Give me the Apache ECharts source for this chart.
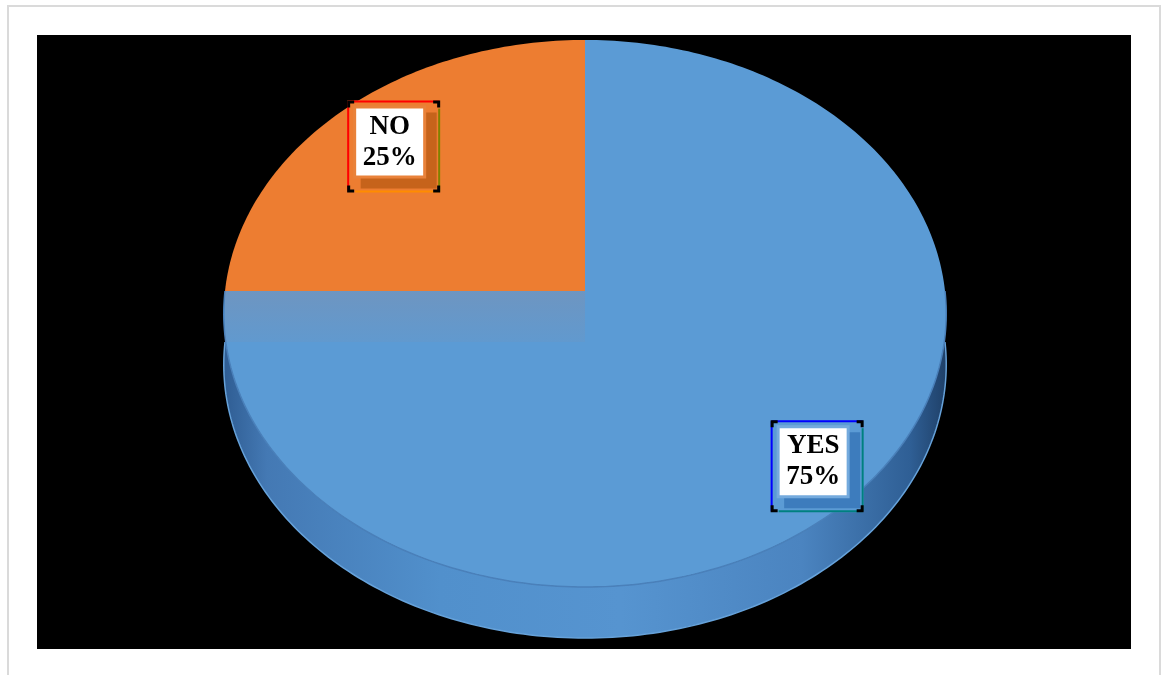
<!DOCTYPE html>
<html>
<head>
<meta charset="utf-8">
<script src="https://cdn.jsdelivr.net/npm/echarts@6/dist/echarts.min.js"></script>
<style>
  html, body { margin: 0; padding: 0; background: #ffffff; }
  #chart { width: 1163px; height: 675px; }
</style>
</head>
<body>
<div id="chart"></div>
<script>
// Survey answers
const categories = ['YES', 'NO'];
const values = [75, 25];

// Per-slice styling
const sliceStyle = {
  YES: { color: '#5b9bd5', labelRadius: 0.866,
         shadow: '#3d7cbd', border: '#74aadd',
         edgeA: '#0000ff', edgeB: '#008080', edgeC: '#008080' },
  NO:  { color: '#ed7d31', labelRadius: 0.786,
         shadow: '#c6631b', border: '#e9823a',
         edgeA: '#ff0000', edgeB: '#808000', edgeC: '#ff8c00' }
};

// Tilted-disc projection (slight perspective: front edge is nearer)
const geom = { cx: 585, cy: 291, rx: 360, a: 271.7, b: -0.0823, depth: 51 };
const total = values.reduce((s, v) => s + v, 0);

function proj(deg, r, drop) {
  const t = deg * Math.PI / 180;
  const x = r * Math.sin(t), z = -r * Math.cos(t);
  const s = 1 / (1 + geom.b * z);
  return [geom.cx + geom.rx * x * s, geom.cy + geom.a * z * s + (drop || 0)];
}
function rim(a0, a1, drop) {
  const n = Math.max(2, Math.ceil(Math.abs(a1 - a0)));
  const pts = [];
  for (let i = 0; i <= n; i++) pts.push(proj(a0 + (a1 - a0) * i / n, 1, drop));
  return pts;
}

function renderItem(params, api) {
  const i = params.dataIndex;
  const name = categories[i];
  const v = api.value(1);
  let before = 0;
  for (let k = 0; k < i; k++) before += values[k];
  const a0 = before / total * 360;
  const a1 = (before + v) / total * 360;
  const st = sliceStyle[name];
  const apex = [geom.cx, geom.cy];
  const kids = [];

  // top face
  kids.push({
    type: 'polygon', z2: 10,
    shape: { points: [apex].concat(rim(a0, a1, 0)) },
    style: { fill: st.color }
  });

  // outer wall on the visible front half
  const w0 = Math.max(a0, 90), w1 = Math.min(a1, 270);
  if (w1 > w0) {
    const top = rim(w0, w1, 0);
    const bot = rim(w0, w1, geom.depth);
    kids.push({
      type: 'polygon', z2: 5,
      shape: { points: top.concat(bot.slice().reverse()) },
      style: {
        fill: new echarts.graphic.LinearGradient(0, 0, 1, 0, [
          { offset: 0, color: '#2f5d93' },
          { offset: 0.06, color: '#4479b4' },
          { offset: 0.3, color: '#5190cc' },
          { offset: 0.55, color: '#5694d0' },
          { offset: 0.8, color: '#4b84c0' },
          { offset: 0.95, color: '#2f5f95' },
          { offset: 1, color: '#1f4068' }
        ])
      }
    });
    kids.push({
      type: 'polyline', z2: 11,
      shape: { points: top },
      style: { stroke: '#4a80ba', lineWidth: 1.5, fill: null }
    });
    kids.push({
      type: 'polyline', z2: 6,
      shape: { points: bot },
      style: { stroke: '#66a2da', lineWidth: 1.5, fill: null }
    });
  }

  // radial cut faces turned towards the viewer (semi-transparent)
  const cutFace = (deg) => {
    const p = proj(deg, 1, 0);
    kids.push({
      type: 'polygon', z2: 12,
      shape: { points: [apex, p, [p[0], p[1] + geom.depth], [apex[0], apex[1] + geom.depth]] },
      style: {
        fill: new echarts.graphic.LinearGradient(0, 0, 0, 1, [
          { offset: 0, color: 'rgba(140,140,160,0.38)' },
          { offset: 1, color: 'rgba(140,140,160,0.12)' }
        ])
      }
    });
  };
  if (Math.sin(a0 * Math.PI / 180) < -0.01) cutFace(a0);
  if (Math.sin(a1 * Math.PI / 180) > 0.01) cutFace(a1);

  // data label box
  const mid = (a0 + a1) / 2;
  const [ax, ay] = proj(mid, st.labelRadius, 0);
  const pct = Math.round(v / total * 100) + '%';
  const fx0 = ax - 46.5, fy0 = ay - 46, fx1 = ax + 46.5, fy1 = ay + 46;
  kids.push({ type: 'rect', z2: 30, shape: { x: fx0, y: fy0, width: 93, height: 92 }, style: { fill: st.color } });
  kids.push({ type: 'rect', z2: 31, shape: { x: ax - 33, y: ay - 34, width: 76, height: 76 }, style: { fill: st.shadow } });
  kids.push({ type: 'rect', z2: 32, shape: { x: ax - 40.5, y: ay - 41, width: 73, height: 73 }, style: { fill: st.border } });
  kids.push({ type: 'rect', z2: 33, shape: { x: ax - 37.5, y: ay - 38, width: 67, height: 67 }, style: { fill: '#ffffff' } });
  const line = (pts, color, w) => kids.push({
    type: 'polyline', z2: 34, shape: { points: pts },
    style: { stroke: color, lineWidth: w || 2, fill: null }
  });
  line([[fx0 + 1, fy0 + 1], [fx1 - 1, fy0 + 1]], st.edgeA);
  line([[fx0 + 1, fy0 + 1], [fx0 + 1, fy1 - 1]], st.edgeA);
  line([[fx1 - 1, fy0 + 8], [fx1 - 1, fy1 - 1]], st.edgeB);
  line([[fx0 + 8, fy1 - 1], [fx1 - 1, fy1 - 1]], st.edgeC);
  const c = 7;
  line([[fx0 + 1.5, fy0 + c], [fx0 + 1.5, fy0 + 1.5], [fx0 + c, fy0 + 1.5]], '#000', 3);
  line([[fx1 - c, fy0 + 1.5], [fx1 - 1.5, fy0 + 1.5], [fx1 - 1.5, fy0 + c]], '#000', 3);
  line([[fx0 + 1.5, fy1 - c], [fx0 + 1.5, fy1 - 1.5], [fx0 + c, fy1 - 1.5]], '#000', 3);
  line([[fx1 - c, fy1 - 1.5], [fx1 - 1.5, fy1 - 1.5], [fx1 - 1.5, fy1 - c]], '#000', 3);
  kids.push({
    type: 'text', z2: 40, x: ax - 4, y: ay - 4.5,
    style: {
      text: name + '\n' + pct,
      fill: '#000000',
      font: 'bold 27px "Liberation Serif", "Times New Roman", serif',
      align: 'center', verticalAlign: 'middle', lineHeight: 31
    }
  });

  return { type: 'group', children: kids };
}

const chart = echarts.init(document.getElementById('chart'), null, { renderer: 'canvas' });
chart.setOption({
  animation: false,
  backgroundColor: '#ffffff',
  graphic: [
    { type: 'rect', z: 0, silent: true,
      shape: { x: 8, y: 6, width: 1152, height: 700 },
      style: { fill: '#ffffff', stroke: '#dadada', lineWidth: 2 } },
    { type: 'rect', z: 1, silent: true,
      shape: { x: 37, y: 35, width: 1094, height: 614 },
      style: { fill: '#000000' } }
  ],
  series: [{
    type: 'custom',
    coordinateSystem: 'none',
    z: 10,
    renderItem: renderItem,
    data: categories.map((c, i) => [i, values[i]])
  }]
});
</script>
</body>
</html>
